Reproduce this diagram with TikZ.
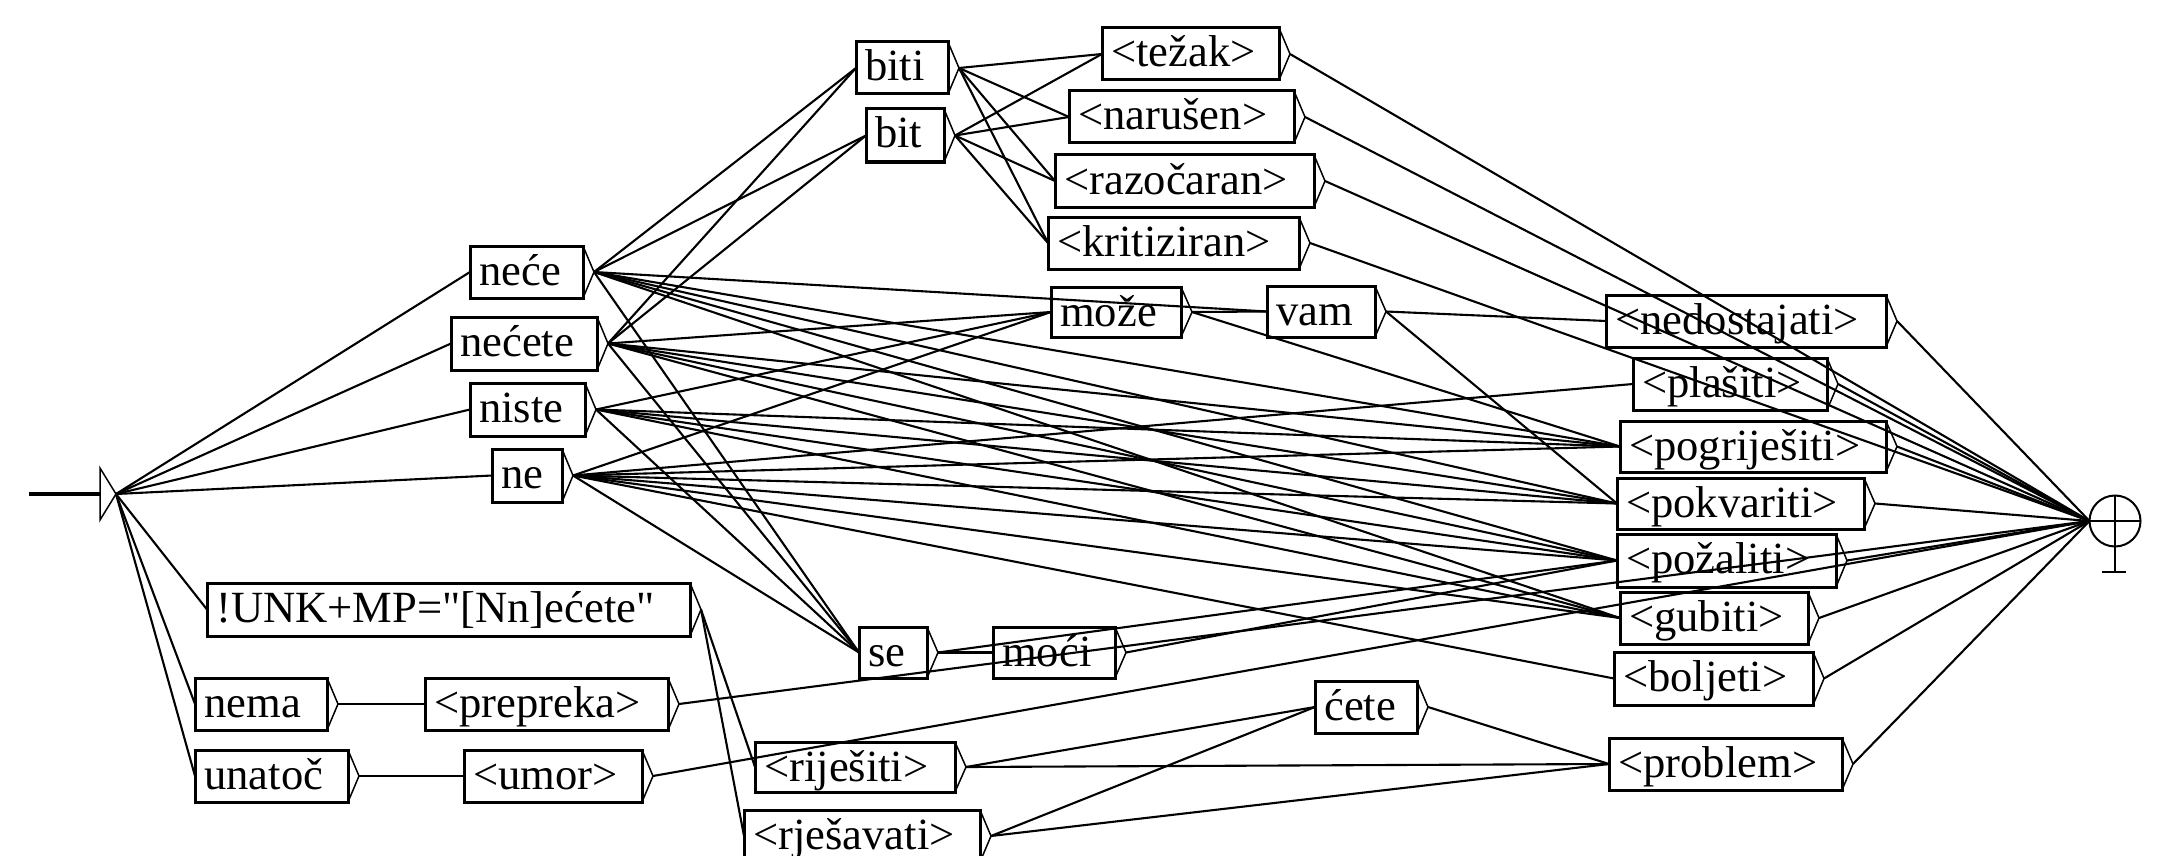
\documentclass[tikz,border=0pt]{standalone}
\usepackage{fontspec}
\setmainfont[Ligatures=TeXReset]{Liberation Serif}
\usetikzlibrary{calc}
\tikzset{
 ubox/.style={draw, line width=3pt, rectangle, anchor=north west, inner sep=0pt, outer sep=0pt},
 utext/.style={anchor=base west, inner sep=0pt, font=\fontsize{44.6}{50}\selectfont},
 edge/.style={line width=2.1pt},
 tri/.style={line width=1.5pt},
}
\newcommand\ubx[6]{%
 \pgfmathsetmacro\ubw{#4-#2}\pgfmathsetmacro\ubh{#5-#3}%
 \node[ubox, minimum width=\ubw pt, minimum height=\ubh pt] (#1) at (#2,#3) {};
 \node[utext] (#1-l) at ($(#1.north west)+(9,39)$) {#6};
 \draw[tri] (#1.north east) -- ($(#1.east)+(11,0)$) coordinate (#1-t) -- (#1.south east);
}
\begin{document}
\begin{tikzpicture}[x=1pt,y=-1pt]
\useasboundingbox (0,0) rectangle (2171,856);
% initial state
\draw[line width=4pt] (29,494) -- (100,494);
\draw[tri] (100,468) -- (116,494) coordinate (init-t) -- (100,520) -- cycle;
% boxes
\ubx{biti}{856}{42}{948}{94}{biti}
\ubx{bit}{866}{109}{944}{162}{bit}
\ubx{tezak}{1102}{28}{1279}{80}{<težak>}
\ubx{narusen}{1069}{91}{1294}{143}{<narušen>}
\ubx{razocaran}{1055}{155}{1314}{207}{<razočaran>}
\ubx{kritiziran}{1048}{217}{1299}{269}{<kritiziran>}
\ubx{nece}{470}{246}{583}{298}{neće}
\ubx{necete}{451}{317}{597}{370}{nećete}
\ubx{niste}{470}{383}{585}{436}{niste}
\ubx{ne}{492}{449}{562}{502}{ne}
\ubx{moze}{1051}{287}{1181}{337}{može}
\ubx{vam}{1267}{286}{1375}{337}{vam}
\ubx{nedost}{1606}{295}{1886}{347}{<nedostajati>}
\ubx{plasiti}{1633}{358}{1827}{410}{<plašiti>}
\ubx{pogr}{1620}{421}{1886}{472}{<pogriješiti>}
\ubx{pokv}{1617}{478}{1864}{529}{<pokvariti>}
\ubx{pozal}{1617}{534}{1836}{587}{<požaliti>}
\ubx{gubiti}{1620}{592}{1808}{644}{<gubiti>}
\ubx{boljeti}{1614}{652}{1813}{705}{<boljeti>}
\ubx{problem}{1609}{738}{1842}{790}{<problem>}
\ubx{cete}{1315}{681}{1417}{733}{ćete}
\ubx{se}{859}{627}{927}{678}{se}
\ubx{moci}{993}{627}{1115}{678}{moći}
\ubx{unk}{207}{583}{690}{636}{!UNK+MP="[Nn]ećete"}
\ubx{nema}{195}{678}{327}{730}{nema}
\ubx{prepreka}{425}{678}{668}{730}{<prepreka>}
\ubx{unatoc}{195}{750}{348}{802}{unatoč}
\ubx{umor}{464}{750}{642}{802}{<umor>}
\ubx{rijesiti}{755}{742}{955}{792}{<riješiti>}
\ubx{rjesavati}{744}{810}{980}{862}{<rješavati>}
% final state
\node[draw, circle, line width=2pt, minimum size=51pt, inner sep=0pt, outer sep=0pt] (fin) at (2115,521) {};
\draw[line width=2pt] (fin.west) -- (fin.east);
\draw[line width=2pt] (fin.north) -- (2115,572);
\draw[line width=2pt] (2102,572) -- (2126,572);
% connectors
\foreach \a/\b in {init/nece, init/necete, init/niste, init/ne, init/unk, init/nema, init/unatoc,
  nece/biti, nece/bit, nece/vam, nece/se, nece/pogr, nece/pokv, nece/pozal, nece/gubiti,
  necete/biti, necete/bit, necete/moze, necete/se, necete/pogr, necete/pokv, necete/pozal, necete/gubiti,
  niste/moze, niste/se, niste/pogr, niste/pokv, niste/pozal, niste/gubiti,
  ne/moze, ne/se, ne/plasiti, ne/boljeti, ne/pogr, ne/pokv, ne/pozal, ne/gubiti,
  biti/tezak, biti/narusen, biti/razocaran, biti/kritiziran,
  bit/tezak, bit/narusen, bit/razocaran, bit/kritiziran,
  moze/vam, moze/pogr, vam/nedost, vam/pokv,
  se/moci, se/pozal, moci/pozal,
  unk/rijesiti, unk/rjesavati, nema/prepreka, unatoc/umor,
  rijesiti/cete, rijesiti/problem, rjesavati/cete, rjesavati/problem, cete/problem}
  {\draw[edge] (\a-t) -- (\b.west);}
\foreach \a in {tezak, narusen, razocaran, kritiziran, nedost, plasiti, pogr, pokv, pozal, gubiti, boljeti, problem, prepreka, umor}
  {\draw[edge] (\a-t) -- (fin.west);}
\end{tikzpicture}
\end{document}
